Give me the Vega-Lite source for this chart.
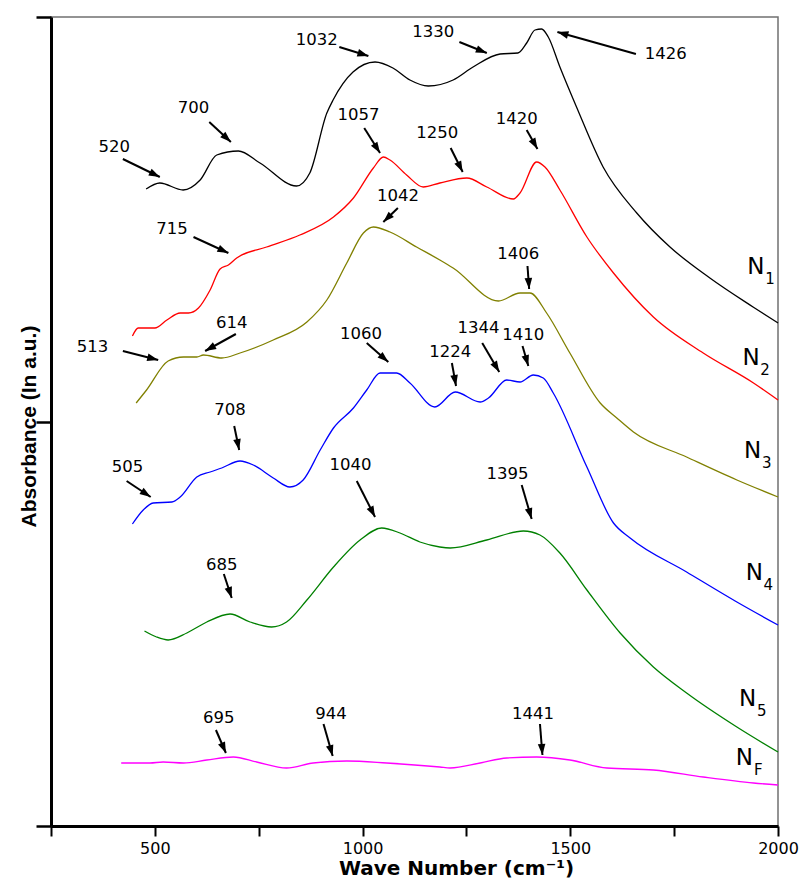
{
  "$schema": "https://vega.github.io/schema/vega-lite/v6.json",
  "width": 727,
  "height": 809,
  "autosize": {"type": "none"},
  "padding": {"left": 51, "top": 17, "right": 29, "bottom": 53},
  "background": "white",
  "config": {"view": {"stroke": "#707070", "strokeWidth": 1.5}, "font": "DejaVu Sans"},
  "datasets": {
    "curves": [
      {"s":"N1","x":479,"y":637},{"s":"N1","x":512,"y":643},{"s":"N1","x":568,"y":636},{"s":"N1","x":609,"y":646},{"s":"N1","x":649,"y":671},{"s":"N1","x":701,"y":675},{"s":"N1","x":753,"y":663},{"s":"N1","x":841,"y":640},{"s":"N1","x":873,"y":653},{"s":"N1","x":914,"y":713},{"s":"N1","x":929,"y":726},{"s":"N1","x":977,"y":754},{"s":"N1","x":1030,"y":764},{"s":"N1","x":1073,"y":758},{"s":"N1","x":1114,"y":746},{"s":"N1","x":1158,"y":740},{"s":"N1","x":1218,"y":746},{"s":"N1","x":1266,"y":759},{"s":"N1","x":1331,"y":772},{"s":"N1","x":1374,"y":773},{"s":"N1","x":1395,"y":783},{"s":"N1","x":1415,"y":796},{"s":"N1","x":1431,"y":797},{"s":"N1","x":1447,"y":789},{"s":"N1","x":1475,"y":759},{"s":"N1","x":1515,"y":719},{"s":"N1","x":1579,"y":659},{"s":"N1","x":1660,"y":613},{"s":"N1","x":1740,"y":579},{"s":"N1","x":1836,"y":548},{"s":"N1","x":1940,"y":519},{"s":"N1","x":2000,"y":503},
      {"s":"N2","x":446,"y":490},{"s":"N2","x":460,"y":498},{"s":"N2","x":500,"y":498},{"s":"N2","x":529,"y":506},{"s":"N2","x":561,"y":513},{"s":"N2","x":581,"y":513},{"s":"N2","x":605,"y":518},{"s":"N2","x":633,"y":536},{"s":"N2","x":657,"y":557},{"s":"N2","x":677,"y":561},{"s":"N2","x":697,"y":568},{"s":"N2","x":769,"y":579},{"s":"N2","x":849,"y":591},{"s":"N2","x":930,"y":609},{"s":"N2","x":978,"y":628},{"s":"N2","x":1026,"y":658},{"s":"N2","x":1050,"y":669},{"s":"N2","x":1066,"y":666},{"s":"N2","x":1106,"y":651},{"s":"N2","x":1146,"y":639},{"s":"N2","x":1186,"y":643},{"s":"N2","x":1251,"y":648},{"s":"N2","x":1299,"y":639},{"s":"N2","x":1363,"y":627},{"s":"N2","x":1379,"y":633},{"s":"N2","x":1419,"y":664},{"s":"N2","x":1439,"y":659},{"s":"N2","x":1475,"y":636},{"s":"N2","x":1540,"y":589},{"s":"N2","x":1604,"y":553},{"s":"N2","x":1700,"y":509},{"s":"N2","x":1820,"y":473},{"s":"N2","x":1941,"y":443},{"s":"N2","x":2000,"y":426},
      {"s":"N3","x":455,"y":423},{"s":"N3","x":480,"y":436},{"s":"N3","x":532,"y":465},{"s":"N3","x":569,"y":469},{"s":"N3","x":601,"y":469},{"s":"N3","x":617,"y":471},{"s":"N3","x":661,"y":468},{"s":"N3","x":705,"y":473},{"s":"N3","x":785,"y":486},{"s":"N3","x":866,"y":504},{"s":"N3","x":914,"y":526},{"s":"N3","x":962,"y":563},{"s":"N3","x":1002,"y":593},{"s":"N3","x":1026,"y":599},{"s":"N3","x":1066,"y":594},{"s":"N3","x":1130,"y":579},{"s":"N3","x":1186,"y":566},{"s":"N3","x":1218,"y":558},{"s":"N3","x":1327,"y":525},{"s":"N3","x":1379,"y":533},{"s":"N3","x":1403,"y":533},{"s":"N3","x":1443,"y":513},{"s":"N3","x":1499,"y":473},{"s":"N3","x":1572,"y":423},{"s":"N3","x":1612,"y":408},{"s":"N3","x":1652,"y":394},{"s":"N3","x":1780,"y":369},{"s":"N3","x":1901,"y":346},{"s":"N3","x":2000,"y":329},
      {"s":"N4","x":446,"y":302},{"s":"N4","x":472,"y":316},{"s":"N4","x":496,"y":323},{"s":"N4","x":541,"y":324},{"s":"N4","x":561,"y":329},{"s":"N4","x":601,"y":349},{"s":"N4","x":633,"y":354},{"s":"N4","x":661,"y":358},{"s":"N4","x":705,"y":365},{"s":"N4","x":737,"y":361},{"s":"N4","x":785,"y":348},{"s":"N4","x":825,"y":339},{"s":"N4","x":857,"y":346},{"s":"N4","x":898,"y":376},{"s":"N4","x":930,"y":398},{"s":"N4","x":978,"y":418},{"s":"N4","x":1010,"y":436},{"s":"N4","x":1042,"y":453},{"s":"N4","x":1082,"y":453},{"s":"N4","x":1114,"y":443},{"s":"N4","x":1174,"y":419},{"s":"N4","x":1223,"y":434},{"s":"N4","x":1283,"y":424},{"s":"N4","x":1303,"y":428},{"s":"N4","x":1347,"y":446},{"s":"N4","x":1379,"y":444},{"s":"N4","x":1411,"y":451},{"s":"N4","x":1435,"y":448},{"s":"N4","x":1459,"y":433},{"s":"N4","x":1540,"y":359},{"s":"N4","x":1604,"y":303},{"s":"N4","x":1644,"y":288},{"s":"N4","x":1780,"y":254},{"s":"N4","x":1901,"y":224},{"s":"N4","x":2000,"y":201},
      {"s":"N5","x":475,"y":195},{"s":"N5","x":504,"y":189},{"s":"N5","x":532,"y":186},{"s":"N5","x":577,"y":193},{"s":"N5","x":625,"y":204},{"s":"N5","x":681,"y":212},{"s":"N5","x":729,"y":204},{"s":"N5","x":781,"y":199},{"s":"N5","x":817,"y":204},{"s":"N5","x":866,"y":226},{"s":"N5","x":930,"y":259},{"s":"N5","x":994,"y":286},{"s":"N5","x":1046,"y":298},{"s":"N5","x":1090,"y":293},{"s":"N5","x":1138,"y":284},{"s":"N5","x":1186,"y":279},{"s":"N5","x":1211,"y":278},{"s":"N5","x":1299,"y":286},{"s":"N5","x":1387,"y":295},{"s":"N5","x":1427,"y":291},{"s":"N5","x":1475,"y":273},{"s":"N5","x":1540,"y":236},{"s":"N5","x":1620,"y":193},{"s":"N5","x":1700,"y":159},{"s":"N5","x":1780,"y":133},{"s":"N5","x":1901,"y":99},{"s":"N5","x":2000,"y":74},
      {"s":"NF","x":419,"y":63},{"s":"NF","x":488,"y":63},{"s":"NF","x":520,"y":64},{"s":"NF","x":569,"y":63},{"s":"NF","x":625,"y":66},{"s":"NF","x":689,"y":69},{"s":"NF","x":745,"y":64},{"s":"NF","x":817,"y":58},{"s":"NF","x":881,"y":63},{"s":"NF","x":962,"y":65},{"s":"NF","x":1058,"y":63},{"s":"NF","x":1186,"y":59},{"s":"NF","x":1211,"y":58},{"s":"NF","x":1283,"y":63},{"s":"NF","x":1347,"y":68},{"s":"NF","x":1419,"y":69},{"s":"NF","x":1499,"y":66},{"s":"NF","x":1588,"y":58},{"s":"NF","x":1700,"y":56},{"s":"NF","x":1820,"y":49},{"s":"NF","x":1941,"y":43},{"s":"NF","x":2000,"y":41}
    ],
    "notes": [
      {"label":"520","tx":402,"ty":679,"x1":423,"y1":667,"x2":512,"y2":649},
      {"label":"700","tx":593,"ty":718,"x1":631,"y1":704,"x2":683,"y2":684},
      {"label":"1032","tx":890,"ty":786,"x1":944,"y1":779,"x2":1014,"y2":770},
      {"label":"1330","tx":1170,"ty":794,"x1":1233,"y1":784,"x2":1299,"y2":773},
      {"label":"1426","tx":1730,"ty":772,"x1":1658,"y1":772,"x2":1469,"y2":794},
      {"label":"1057","tx":990,"ty":711,"x1":1004,"y1":698,"x2":1042,"y2":673},
      {"label":"1250","tx":1180,"ty":693,"x1":1212,"y1":678,"x2":1241,"y2":654},
      {"label":"1420","tx":1371,"ty":707,"x1":1395,"y1":696,"x2":1421,"y2":677},
      {"label":"715","tx":541,"ty":597,"x1":593,"y1":589,"x2":677,"y2":573},
      {"label":"1042","tx":1085,"ty":630,"x1":1085,"y1":618,"x2":1050,"y2":604},
      {"label":"1406","tx":1375,"ty":572,"x1":1397,"y1":560,"x2":1401,"y2":537},
      {"label":"513","tx":350,"ty":479,"x1":423,"y1":475,"x2":508,"y2":466},
      {"label":"614","tx":685,"ty":503,"x1":695,"y1":492,"x2":621,"y2":475},
      {"label":"1060","tx":996,"ty":492,"x1":1010,"y1":483,"x2":1062,"y2":464},
      {"label":"1224","tx":1211,"ty":474,"x1":1215,"y1":463,"x2":1225,"y2":440},
      {"label":"1344","tx":1279,"ty":498,"x1":1288,"y1":483,"x2":1329,"y2":454},
      {"label":"1410","tx":1387,"ty":491,"x1":1385,"y1":480,"x2":1399,"y2":460},
      {"label":"708","tx":681,"ty":416,"x1":691,"y1":400,"x2":703,"y2":376},
      {"label":"505","tx":434,"ty":359,"x1":432,"y1":345,"x2":490,"y2":329},
      {"label":"1040","tx":971,"ty":361,"x1":986,"y1":345,"x2":1030,"y2":309},
      {"label":"1395","tx":1349,"ty":352,"x1":1383,"y1":341,"x2":1407,"y2":307},
      {"label":"685","tx":661,"ty":261,"x1":666,"y1":252,"x2":685,"y2":228},
      {"label":"695","tx":654,"ty":108,"x1":647,"y1":96,"x2":671,"y2":73},
      {"label":"944","tx":924,"ty":112,"x1":906,"y1":102,"x2":928,"y2":70},
      {"label":"1441","tx":1410,"ty":112,"x1":1427,"y1":102,"x2":1433,"y2":71}
    ],
    "names": [
      {"n":"N","sub":"1","x":1947,"y":559},
      {"n":"N","sub":"2","x":1935,"y":468},
      {"n":"N","sub":"3","x":1939,"y":375},
      {"n":"N","sub":"4","x":1943,"y":253},
      {"n":"N","sub":"5","x":1927,"y":127},
      {"n":"N","sub":"F","x":1919,"y":68}
    ]
  },
  "layer": [
    {
      "data": {"name": "curves"},
      "mark": {"type": "line", "interpolate": "monotone", "strokeWidth": 1.3},
      "encoding": {
        "x": {
          "field": "x", "type": "quantitative",
          "scale": {"domain": [250, 2000], "nice": false, "zero": false},
          "axis": {
            "values": [250, 500, 750, 1000, 1250, 1500, 1750, 2000],
            "labelExpr": "datum.value % 500 === 0 ? datum.label : ''",
            "format": "d",
            "labelFlush": false,
            "labelOverlap": false,
            "labelFont": "DejaVu Sans",
            "labelFontSize": 16,
            "labelColor": "black",
            "labelPadding": 4,
            "tickSize": 10,
            "tickWidth": 2,
            "tickColor": "black",
            "domainColor": "black",
            "domainWidth": 3,
            "grid": false,
            "title": "Wave Number (cm⁻¹)",
            "titleFont": "DejaVu Sans",
            "titleFontWeight": "bold",
            "titleFontSize": 20,
            "titleColor": "black",
            "titleX": 405,
            "titleY": 48,
            "titleAlign": "center",
            "titleBaseline": "alphabetic"
          }
        },
        "y": {
          "field": "y", "type": "quantitative",
          "scale": {"domain": [0, 809], "nice": false, "zero": false},
          "axis": {
            "values": [0, 404.5, 809],
            "labels": false,
            "tickSize": 15,
            "tickWidth": 2.5,
            "tickColor": "black",
            "domainColor": "black",
            "domainWidth": 3,
            "grid": false,
            "title": "Absorbance (In a.u.)",
            "titleFont": "Liberation Sans",
            "titleFontWeight": "bold",
            "titleFontSize": 21,
            "titleColor": "black",
            "titleX": -22,
            "titleY": 409,
            "titleAlign": "center",
            "titleBaseline": "middle"
          }
        },
        "color": {
          "field": "s", "type": "nominal",
          "scale": {"domain": ["N1","N2","N3","N4","N5","NF"], "range": ["#000000","#ff0000","#808000","#0000ff","#008000","#ff00ff"]},
          "legend": null
        }
      }
    },
    {
      "data": {"name": "notes"},
      "mark": {"type": "rule", "color": "black", "strokeWidth": 2},
      "encoding": {
        "x": {"field": "x1", "type": "quantitative"},
        "y": {"field": "y1", "type": "quantitative"},
        "x2": {"field": "x2"},
        "y2": {"field": "y2"}
      }
    },
    {
      "data": {"name": "notes"},
      "transform": [
        {"calculate": "atan2((datum.x2 - datum.x1) * 727 / 1750, datum.y2 - datum.y1) * 180 / PI", "as": "ang"}
      ],
      "mark": {"type": "point", "shape": "M0,0L0.38,1.1L-0.38,1.1Z", "filled": true, "color": "black", "size": 400, "opacity": 1},
      "encoding": {
        "x": {"field": "x2", "type": "quantitative"},
        "y": {"field": "y2", "type": "quantitative"},
        "angle": {"field": "ang", "type": "quantitative", "scale": null}
      }
    },
    {
      "data": {"name": "notes"},
      "mark": {"type": "text", "font": "DejaVu Sans", "fontSize": 16.5, "color": "black", "align": "center", "baseline": "middle"},
      "encoding": {
        "x": {"field": "tx", "type": "quantitative"},
        "y": {"field": "ty", "type": "quantitative"},
        "text": {"field": "label"}
      }
    },
    {
      "data": {"name": "names"},
      "mark": {"type": "text", "font": "DejaVu Sans", "fontSize": 23, "color": "black", "align": "center", "baseline": "middle"},
      "encoding": {
        "x": {"field": "x", "type": "quantitative"},
        "y": {"field": "y", "type": "quantitative"},
        "text": {"field": "n"}
      }
    },
    {
      "data": {"name": "names"},
      "mark": {"type": "text", "font": "DejaVu Sans", "fontSize": 15, "color": "black", "align": "center", "baseline": "middle", "dx": 14, "dy": 12},
      "encoding": {
        "x": {"field": "x", "type": "quantitative"},
        "y": {"field": "y", "type": "quantitative"},
        "text": {"field": "sub"}
      }
    }
  ]
}
